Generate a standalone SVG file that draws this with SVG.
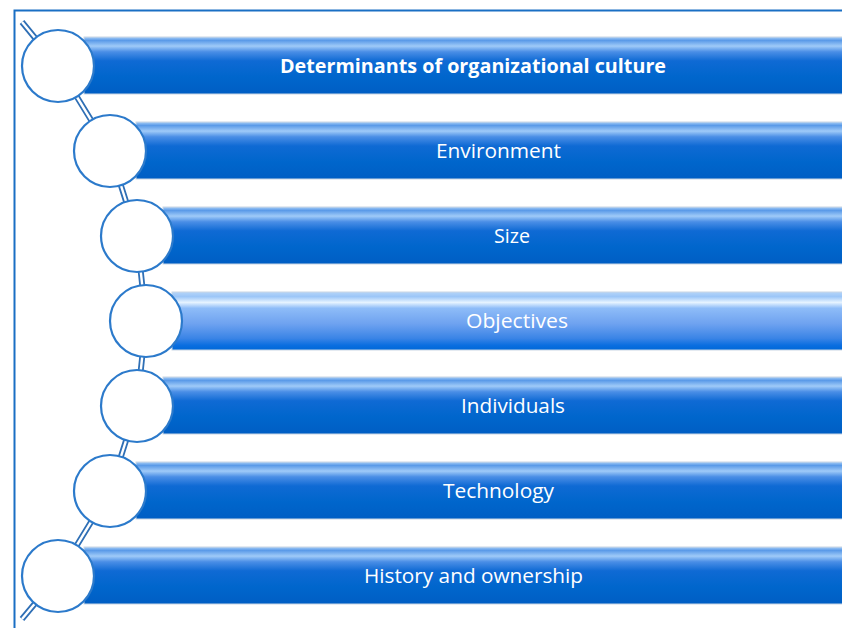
<svg xmlns="http://www.w3.org/2000/svg" width="842" height="628" viewBox="0 0 842 628">
<defs>
<linearGradient id="gDark" x1="0" y1="0" x2="0" y2="1">
<stop offset="0" stop-color="#a9cff7"/>
<stop offset="0.06" stop-color="#5a9ae8"/>
<stop offset="0.16" stop-color="#9fcaf8"/>
<stop offset="0.26" stop-color="#4a8ee6"/>
<stop offset="0.42" stop-color="#0f6ad4"/>
<stop offset="0.7" stop-color="#0066cc"/>
<stop offset="1" stop-color="#005ec4"/>
</linearGradient>
<linearGradient id="gLight" x1="0" y1="0" x2="0" y2="1">
<stop offset="0" stop-color="#b4d4f8"/>
<stop offset="0.08" stop-color="#9cc6f8"/>
<stop offset="0.18" stop-color="#e6f3ff"/>
<stop offset="0.28" stop-color="#8ebcf8"/>
<stop offset="0.55" stop-color="#6ea2f0"/>
<stop offset="0.8" stop-color="#3a84e6"/>
<stop offset="0.92" stop-color="#0a6ee0"/>
<stop offset="1" stop-color="#0068d8"/>
</linearGradient>
</defs>
<style>
.bar{fill:url(#gDark);stroke:#c9d6e4;stroke-width:1}
.bar.light{fill:url(#gLight)}
.circ{fill:#ffffff;stroke:#2c7acb;stroke-width:2.2}
.lbl{font-family:"Open Sans","Liberation Sans",sans-serif;font-size:20px;fill:#ffffff;text-anchor:middle}
.title{font-weight:bold}
.conn-o{fill:none;stroke:#2f6fb5;stroke-width:6;stroke-linecap:butt}
.conn-i{fill:none;stroke:#ffffff;stroke-width:2.4}
</style>
<rect x="0" y="0" width="842" height="628" fill="#ffffff"/>
<path d="M14.5 628 V10.5 H842" fill="none" stroke="#1a6fc4" stroke-width="2"/>
<g id="connectors">
<path class="conn-o" d="M22 22 L58 66 L110 151 L137 236 L146 321 L137 406 L110 491 L58 576 L22 619"/>
<path class="conn-i" d="M22 22 L58 66 L110 151 L137 236 L146 321 L137 406 L110 491 L58 576 L22 619"/>
</g>
<g id="node1">
<rect class="bar" x="84" y="37" width="780" height="57"/>
<circle class="circ" cx="58" cy="66" r="36"/>
<text class="lbl title" x="473" y="73" textLength="386" lengthAdjust="spacingAndGlyphs">Determinants of organizational culture</text>
</g>
<g id="node2">
<rect class="bar" x="136" y="122" width="728" height="57"/>
<circle class="circ" cx="110" cy="151" r="36"/>
<text class="lbl" x="498.5" y="158" textLength="125" lengthAdjust="spacingAndGlyphs">Environment</text>
</g>
<g id="node3">
<rect class="bar" x="163" y="207" width="701" height="57"/>
<circle class="circ" cx="137" cy="236" r="36"/>
<text class="lbl" x="512" y="243" textLength="36" lengthAdjust="spacingAndGlyphs">Size</text>
</g>
<g id="node4">
<rect class="bar light" x="172" y="292" width="692" height="58"/>
<circle class="circ" cx="146" cy="321" r="36"/>
<text class="lbl" x="517" y="328" textLength="102" lengthAdjust="spacingAndGlyphs">Objectives</text>
</g>
<g id="node5">
<rect class="bar" x="163" y="377" width="701" height="57"/>
<circle class="circ" cx="137" cy="406" r="36"/>
<text class="lbl" x="513" y="413" textLength="104" lengthAdjust="spacingAndGlyphs">Individuals</text>
</g>
<g id="node6">
<rect class="bar" x="136" y="462" width="728" height="57"/>
<circle class="circ" cx="110" cy="491" r="36"/>
<text class="lbl" x="498.5" y="498" textLength="111" lengthAdjust="spacingAndGlyphs">Technology</text>
</g>
<g id="node7">
<rect class="bar" x="84" y="547" width="780" height="57"/>
<circle class="circ" cx="58" cy="576" r="36"/>
<text class="lbl" x="473.5" y="583" textLength="219" lengthAdjust="spacingAndGlyphs">History and ownership</text>
</g>
</svg>
